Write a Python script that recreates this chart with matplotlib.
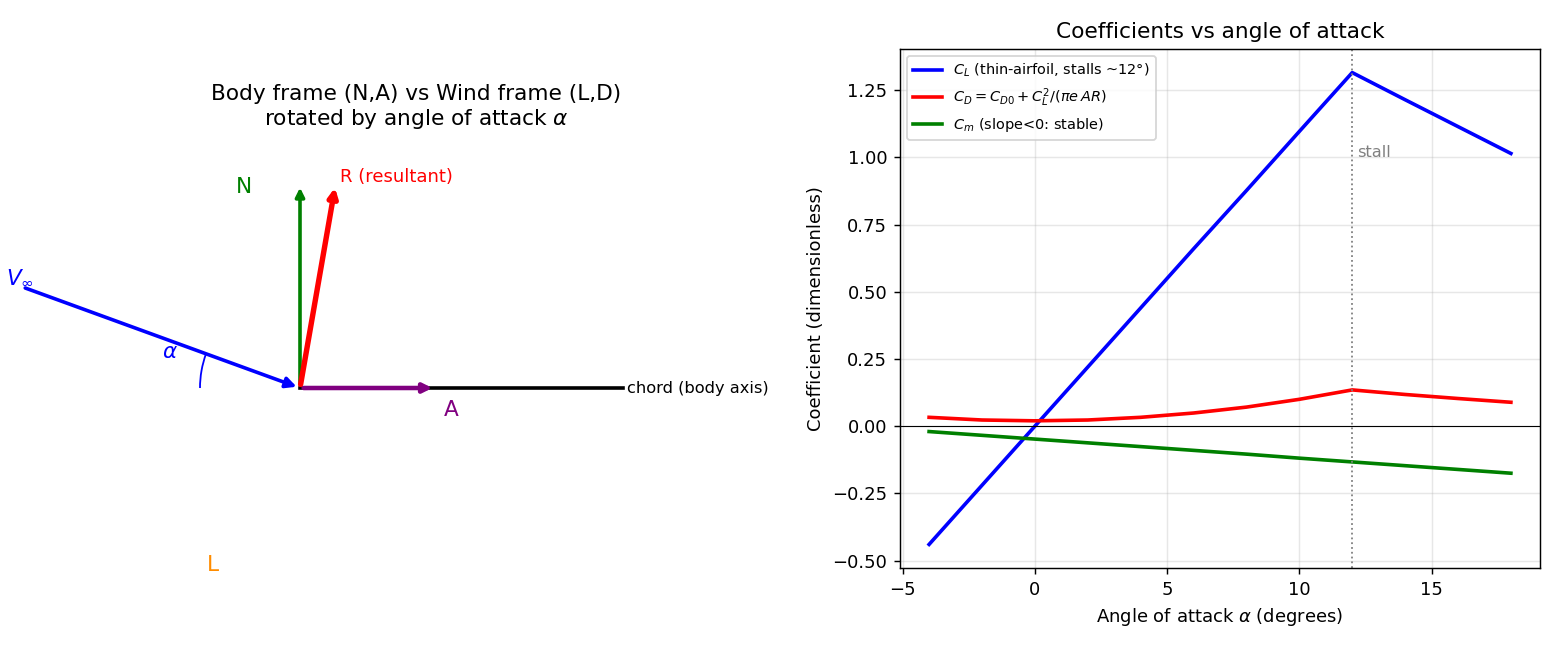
import numpy as np
import matplotlib
matplotlib.use("Agg")
import matplotlib.pyplot as plt
from matplotlib.patches import Arc

# right panel data
alpha_deg = [-4, -2, 0, 2, 4, 6, 8, 10, 12, 14, 16, 18]
cl_vals = [-0.44, -0.22, 0.0, 0.22, 0.44, 0.66, 0.877, 1.097, 1.316, 1.215, 1.115, 1.015]
cd_vals = [0.033, 0.023, 0.020, 0.023, 0.033, 0.049, 0.071, 0.100, 0.135, 0.118, 0.103, 0.089]
cm_vals = [-0.020, -0.034, -0.048, -0.062, -0.076, -0.090, -0.104, -0.119, -0.133, -0.147, -0.161, -0.175]
stall_deg = 12

# left panel geometry (body frame, origin at leading point)
aoa = 20.0
v_len = 1.48
n_vec = (0.0, 1.02)
a_vec = (0.68, 0.0)
r_vec = (0.178, 1.02)
chord_len = 1.615

fig = plt.figure(figsize=(12, 5), dpi=130)

# ---- left: frames diagram ----
ax1 = fig.add_axes([0.0, 50 / 650, 832 / 1560, 464 / 650])
ax1.set_xlim(-1.5, 2.66)
ax1.set_ylim(-1.06, 1.26)
ax1.axis("off")

ax1.plot([0, chord_len], [0, 0], color="black", lw=2)
ax1.text(chord_len + 0.02, 0, "chord (body axis)", fontsize=9, va="center", ha="left")

def arrow(vec, start, color, lw, ms=10):
    ax1.annotate("", xy=(start[0] + vec[0], start[1] + vec[1]), xytext=start,
                 arrowprops=dict(arrowstyle="-|>", color=color, lw=lw, mutation_scale=ms))

a = np.radians(aoa)
v_start = (-v_len * np.cos(a), v_len * np.sin(a))
arrow((-v_start[0], -v_start[1]), v_start, "blue", 2, 12)
arrow(a_vec, (0, 0), "purple", 2.5)
arrow(n_vec, (0, 0), "green", 2)
arrow(r_vec, (0, 0), "red", 3)

ax1.add_patch(Arc((0, 0), 1.0, 1.0, theta1=180 - aoa, theta2=180, color="blue", lw=1))

ax1.text(-0.28, 1.005, "N", color="green", fontsize=12, ha="center", va="center")
ax1.text(0.2, 1.055, "R (resultant)", color="red", fontsize=10, ha="left", va="center")
ax1.text(-1.40, 0.555, r"$V_\infty$", color="blue", fontsize=12, ha="center", va="center")
ax1.text(-0.65, 0.18, r"$\alpha$", color="blue", fontsize=12, ha="center", va="center")
ax1.text(0.755, -0.11, "A", color="purple", fontsize=12, ha="center", va="center")
ax1.text(-0.435, -0.885, "L", color="darkorange", fontsize=12, ha="center", va="center")
ax1.set_title("Body frame (N,A) vs Wind frame (L,D)\nrotated by angle of attack $\\alpha$")

# ---- right: coefficients ----
ax2 = fig.add_axes([900 / 1560, 82 / 650, 640 / 1560, 519 / 650])
ax2.plot(alpha_deg, cl_vals, color="blue", lw=2, label=r"$C_L$ (thin-airfoil, stalls ~12°)")
ax2.plot(alpha_deg, cd_vals, color="red", lw=2, label=r"$C_D = C_{D0} + C_L^2/(\pi e\,AR)$")
ax2.plot(alpha_deg, cm_vals, color="green", lw=2, label=r"$C_m$ (slope<0: stable)")
ax2.axhline(0, color="black", lw=0.6)
ax2.axvline(stall_deg, color="gray", ls=":", lw=1)
ax2.text(stall_deg + 0.2, 1.0, "stall", color="gray", fontsize=9)
ax2.set_xlabel(r"Angle of attack $\alpha$ (degrees)")
ax2.set_ylabel("Coefficient (dimensionless)")
ax2.set_title("Coefficients vs angle of attack")
ax2.grid(alpha=0.3)
ax2.legend(loc="upper left", fontsize=8)

fig.savefig("out.png", dpi=130)
